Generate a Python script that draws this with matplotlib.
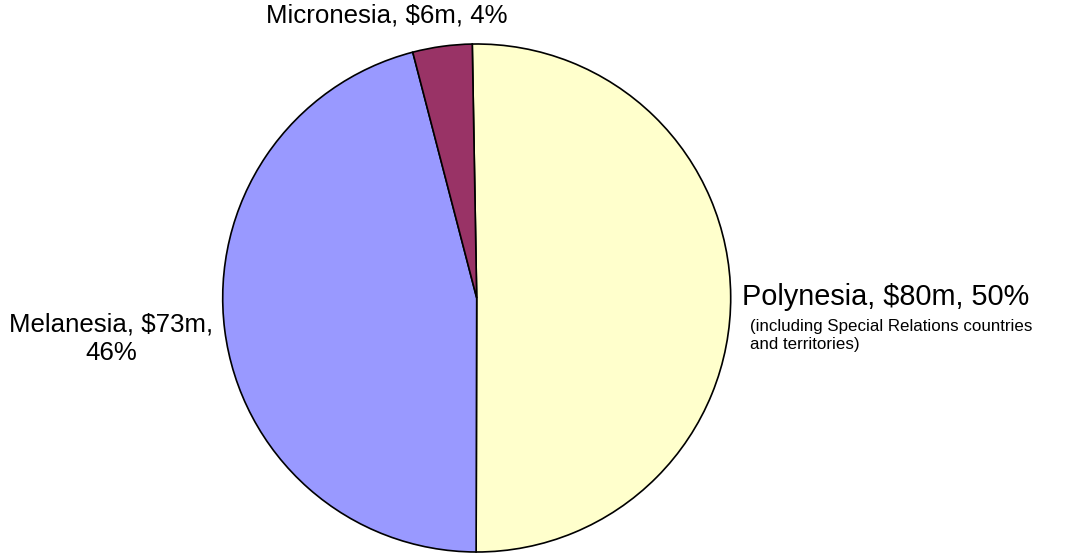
import matplotlib.pyplot as plt

plt.rcParams["font.family"] = ["Liberation Sans", "DejaVu Sans"]

regions = ["Polynesia", "Melanesia", "Micronesia"]
values = [80, 73, 6]
colors = ["#FFFFCC", "#9999FF", "#993366"]

W, H = 1065, 555
cx, cy, r = 476.7, 298, 254

fig = plt.figure(figsize=(W / 100, H / 100), dpi=100)
ax = fig.add_axes([(cx - r) / W, (H - cy - r) / H, 2 * r / W, 2 * r / H])

ax.pie(values, colors=colors, startangle=91, counterclock=False, radius=1,
       wedgeprops={"edgecolor": "black", "linewidth": 1.2})
ax.set_xlim(-1, 1)
ax.set_ylim(-1, 1)
ax.set_aspect("equal")
ax.axis("off")


def d(px, py):
    # pixel position -> data coordinates
    return (px - cx) / r, (cy - py) / r


total = sum(values)
pct = [round(v / total * 100) for v in values]

ax.text(*d(387, 16), f"{regions[2]}, ${values[2]}m, {pct[2]}%", fontsize=18.6,
        ha="center", va="center", clip_on=False)
ax.text(*d(742, 297), f"{regions[0]}, ${values[0]}m, {pct[0]}%", fontsize=20.8,
        ha="left", va="center", clip_on=False)
ax.text(*d(750, 319), "(including Special Relations countries\nand territories)",
        fontsize=12.2, ha="left", va="top", linespacing=1.25, clip_on=False)
ax.text(*d(111, 339), f"{regions[1]}, ${values[1]}m,\n{pct[1]}%", fontsize=18.6,
        ha="center", va="center", linespacing=1.25, clip_on=False)

fig.savefig("out.png", dpi=100)
